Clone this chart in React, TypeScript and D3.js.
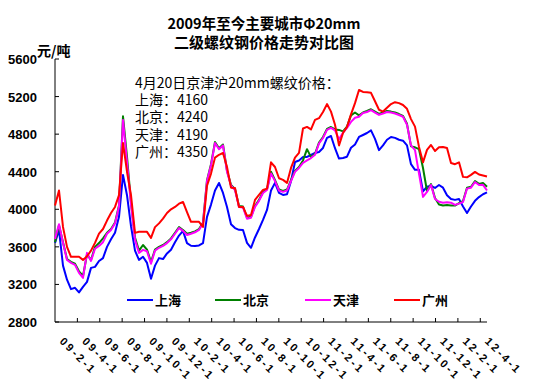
import React from "react";
import * as d3 from "d3";

// prices sampled along the time axis (yuan/ton)
const shanghai = [
  3642, 3780, 3400, 3250, 3150, 3164, 3115, 3174, 3227, 3376,
  3387, 3450, 3480, 3600, 3680, 3750, 3920, 4366, 4150, 3820,
  3560, 3461, 3494, 3429, 3260, 3400, 3480, 3470, 3530, 3570,
  3650, 3720, 3770, 3640, 3612, 3610, 3615, 3640, 3919, 4050,
  4200, 4280, 4174, 4025, 3840, 3800, 3781, 3780, 3642, 3590,
  3700, 3790, 3887, 3993, 4200, 4281, 4174, 4153, 4160, 4300,
  4504, 4520, 4557, 4557, 4578, 4600, 4610, 4653, 4760, 4780,
  4650, 4540, 4546, 4560, 4655, 4690, 4770, 4791, 4812, 4840,
  4750, 4630, 4680, 4740, 4770, 4760, 4740, 4730, 4680, 4480,
  4420, 4420, 4190, 4240, 4250, 4227, 4259, 4230, 4150, 4110,
  4100, 4110, 4030, 3960, 4030, 4090, 4130, 4160, 4180,
];
const beijing = [
  3650, 3830, 3650, 3470, 3440, 3420, 3340, 3290, 3520, 3460,
  3600, 3640, 3690, 3750, 3790, 3860, 4040, 4990, 4560, 4070,
  3700, 3560, 3620, 3570, 3440, 3570, 3600, 3620, 3650, 3690,
  3750, 3810, 3780, 3740, 3750, 3765, 3790, 3860, 4310, 4480,
  4716, 4650, 4690, 4410, 4260, 4216, 4035, 4030, 3910, 3920,
  4035, 4100, 4184, 4216, 4400, 4310, 4210, 4195, 4210, 4310,
  4408, 4450, 4520, 4640, 4555, 4590, 4710, 4769, 4855, 4876,
  4850, 4845, 4830, 4880, 5000, 5030, 5000, 5030, 5046, 5065,
  5040, 5015, 5030, 5046, 5040, 5030, 5014, 4995, 4910, 4670,
  4660, 4640, 4440, 4195, 4269, 4120, 4050, 4040, 4045, 4040,
  4040, 4065, 4088, 4230, 4240, 4300, 4270, 4280, 4240,
];
const tianjin = [
  3685, 3840, 3642, 3461, 3429, 3408, 3323, 3270, 3536, 3450,
  3580, 3610, 3650, 3740, 3780, 3850, 4030, 4951, 4500, 4050,
  3674, 3536, 3568, 3553, 3420, 3560, 3590, 3610, 3640, 3680,
  3740, 3800, 3770, 3727, 3740, 3755, 3780, 3850, 4300, 4470,
  4706, 4640, 4680, 4400, 4250, 4206, 4025, 4020, 3900, 3910,
  4025, 4090, 4174, 4206, 4380, 4300, 4200, 4185, 4200, 4300,
  4398, 4440, 4493, 4520, 4545, 4580, 4700, 4759, 4845, 4866,
  4840, 4745, 4815, 4866, 4930, 4975, 4985, 5025, 5036, 5055,
  5030, 5005, 5020, 5036, 5030, 5020, 5004, 4985, 4900, 4680,
  4630, 4380, 4132, 4185, 4259, 4110, 4080, 4070, 4075, 4070,
  4047, 4060, 4078, 4220, 4230, 4291, 4259, 4260, 4200,
];
const guangzhou = [
  4040, 4200, 3812, 3600, 3494, 3494, 3494, 3461, 3500, 3560,
  3642, 3740, 3790, 3880, 3960, 4025, 4150, 4706, 4400, 4150,
  3749, 3760, 3760, 3760, 3695, 3810, 3850, 3900, 3960, 4000,
  4025, 4060, 4078, 3970, 3866, 3866, 3866, 3812, 4250, 4380,
  4550, 4580, 4600, 4450, 4230, 4227, 4025, 4025, 3930, 3940,
  4100, 4153, 4206, 4220, 4500, 4450, 4330, 4313, 4281, 4440,
  4550, 4600, 4860, 4877, 4850, 4951, 4970, 5036, 5120, 5040,
  4900, 4680, 4812, 4877, 5010, 5130, 5270, 5249, 5245, 5240,
  5150, 5060, 5040, 5080, 5120, 5140, 5130, 5110, 5070, 4960,
  4880, 4664, 4500, 4632, 4685, 4620, 4660, 4664, 4653, 4493,
  4480, 4500, 4345, 4340, 4366, 4398, 4370, 4360, 4350,
];

const series = [
  { name: "上海", color: "#0000ff", values: shanghai },
  { name: "北京", color: "#008000", values: beijing },
  { name: "天津", color: "#ff00ff", values: tianjin },
  { name: "广州", color: "#ff0000", values: guangzhou },
];

const xLabels = [
  "09-2-1", "09-4-1", "09-6-1", "09-8-1", "09-10-1", "09-12-1",
  "10-2-1", "10-4-1", "10-6-1", "10-8-1", "10-10-1", "10-12-1",
  "11-2-1", "11-4-1", "11-6-1", "11-8-1", "11-10-1", "11-12-1",
  "12-2-1", "12-4-1",
];
const yTicks = [2800, 3200, 3600, 4000, 4400, 4800, 5200, 5600];

const noteTitle = "4月20日京津沪20mm螺纹价格：";
const noteLines = ["上海：4160", "北京：4240", "天津：4190", "广州：4350"];

const W = 549;
const H = 392;
const left = 55;
const right = 487;
const top = 59;
const bottom = 322;

const cjk = "'Noto Sans CJK SC', sans-serif";
const latin = "'Liberation Sans', Arial, sans-serif";

export default function App() {
  const n = shanghai.length;
  const x = d3.scaleLinear().domain([0, n - 1]).range([left, right]);
  const y = d3.scaleLinear().domain([2800, 5600]).range([bottom, top]);
  // axis in months, ticks every two months
  const months = d3.scaleLinear().domain([0, 38.6]).range([left, right]);
  const tickMonths = d3.range(2, 39, 2);

  const line = d3
    .line<number>()
    .x((_, i) => x(i))
    .y((d) => y(d));

  const legendX = [127, 215, 305, 394];

  return (
    <svg
      width={W}
      height={H}
      style={{ position: "absolute", left: 0, top: 0, background: "#fff" }}
    >
      {/* title */}
      <text
        x={264}
        y={29}
        textAnchor="middle"
        fontFamily={cjk}
        fontWeight="bold"
        fontSize={14.5}
      >
        2009年至今主要城市Φ20mm
      </text>
      <text
        x={264}
        y={48}
        textAnchor="middle"
        fontFamily={cjk}
        fontWeight="bold"
        fontSize={15}
      >
        二级螺纹钢价格走势对比图
      </text>
      <text x={37} y={56} fontFamily={cjk} fontWeight="bold" fontSize={14}>
        元/吨
      </text>

      {/* y axis */}
      <line x1={left} x2={left} y1={top} y2={bottom} stroke="#000" />
      {yTicks.map((t) => (
        <g key={t}>
          <line x1={left} x2={left + 4} y1={y(t)} y2={y(t)} stroke="#000" />
          <text
            x={37}
            y={y(t) + 5}
            textAnchor="end"
            fontFamily={latin}
            fontWeight="bold"
            fontSize={13}
          >
            {t}
          </text>
        </g>
      ))}

      {/* x axis */}
      <line x1={left} x2={right} y1={bottom} y2={bottom} stroke="#000" />
      {tickMonths.map((m) => (
        <line
          key={m}
          x1={months(m)}
          x2={months(m)}
          y1={bottom}
          y2={bottom - 4}
          stroke="#000"
        />
      ))}
      {xLabels.map((lab, i) => {
        const lx = months(i * 2) + 4;
        const ly = 342;
        return (
          <text
            key={lab}
            transform={`translate(${lx},${ly}) rotate(45)`}
            fontFamily={latin}
            fontWeight="bold"
            fontSize={11}
            letterSpacing={2.5}
          >
            {lab}
          </text>
        );
      })}

      {/* lines */}
      {series.map((s) => (
        <path
          key={s.name}
          d={line(s.values) || ""}
          fill="none"
          stroke={s.color}
          strokeWidth={2}
          strokeLinejoin="round"
        />
      ))}

      {/* note */}
      <text x={135} y={88} fontFamily={cjk} fontSize={14}>
        {noteTitle}
      </text>
      {noteLines.map((t, i) => (
        <text key={t} x={135} y={105 + i * 17.3} fontFamily={cjk} fontSize={14}>
          {t}
        </text>
      ))}

      {/* legend */}
      {series.map((s, i) => (
        <g key={s.name}>
          <line
            x1={legendX[i]}
            x2={legendX[i] + 26}
            y1={300}
            y2={300}
            stroke={s.color}
            strokeWidth={2}
          />
          <text
            x={legendX[i] + 28}
            y={305}
            fontFamily={cjk}
            fontWeight="bold"
            fontSize={13}
          >
            {s.name}
          </text>
        </g>
      ))}
    </svg>
  );
}
